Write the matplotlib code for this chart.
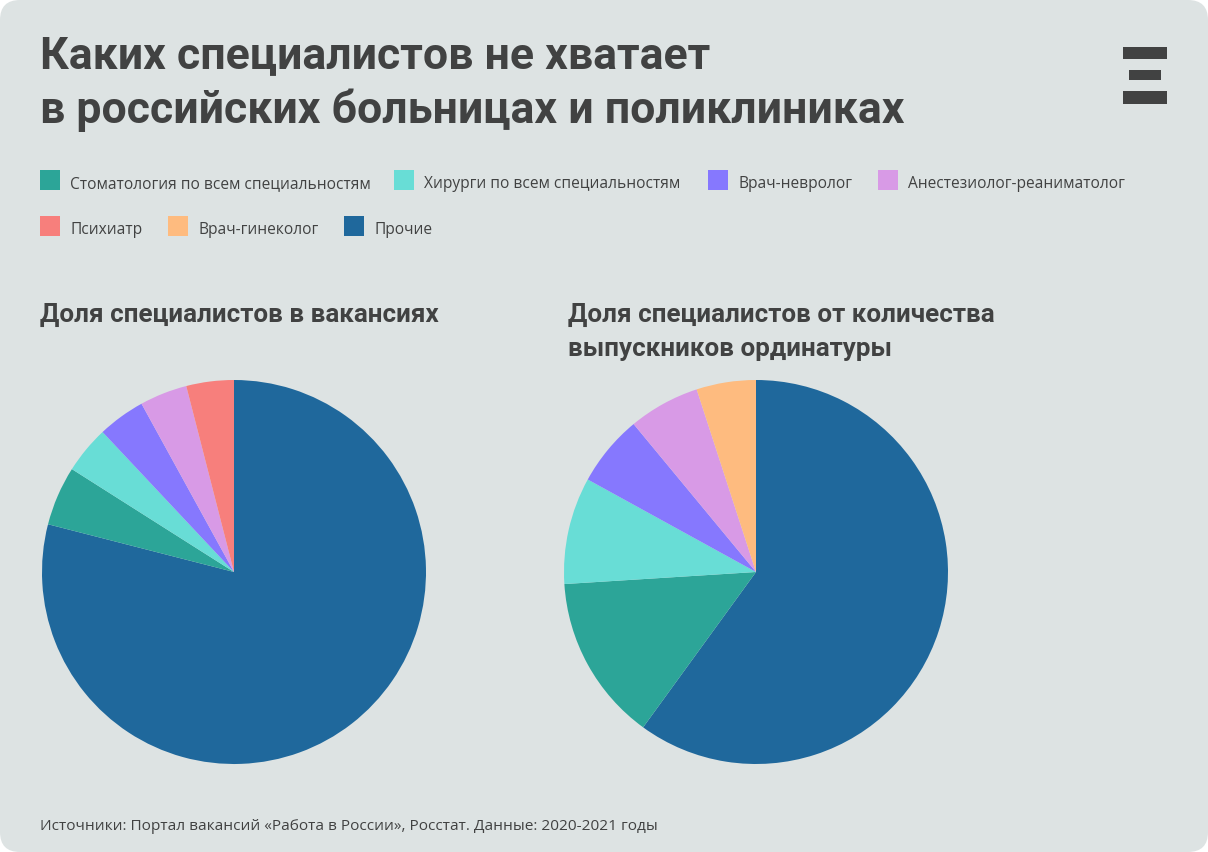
import matplotlib
matplotlib.use('Agg')
import matplotlib.pyplot as plt
from matplotlib.patches import FancyBboxPatch, Rectangle

# Data
categories = ['Стоматология по всем специальностям', 'Хирурги по всем специальностям',
              'Врач-невролог', 'Анестезиолог-реаниматолог', 'Психиатр', 'Врач-гинеколог', 'Прочие']
colors = ['#2ca598', '#68ddd6', '#8678fe', '#d89ae6', '#f77f7c', '#febb7f', '#1f689c']
# clockwise from 12 o'clock, "Прочие" first
vacancies = [79, 5, 4, 4, 4, 4, 0]
vacancies_cats = [6, 0, 1, 2, 3, 4, 5]
graduates = [60, 14, 9, 6, 6, 0, 5]
graduates_cats = [6, 0, 1, 2, 3, 4, 5]

W, H = 1208, 852
BG = '#dde3e3'
DARK = '#414242'
FONT = 'Open Sans'
HEAD_FONT = 'Roboto'

fig = plt.figure(figsize=(W / 100, H / 100), dpi=100, facecolor='white')
bg = fig.add_axes([0, 0, 1, 1])
bg.set_xlim(0, W)
bg.set_ylim(H, 0)
bg.axis('off')
bg.add_patch(FancyBboxPatch((20, 20), W - 40, H - 40, boxstyle='round,pad=20,rounding_size=20',
                            fc=BG, ec='none'))

bg.text(40, 56, 'Каких специалистов не хватает', fontsize=32.1, fontweight='bold',
        family=HEAD_FONT, color=DARK, va='center')
bg.text(40, 110, 'в российских больницах и поликлиниках', fontsize=32.1, fontweight='bold',
        family=HEAD_FONT, color=DARK, va='center')

# logo
for x, y, w, h in [(1123, 47, 44, 12), (1129, 70, 32, 10), (1123, 91, 44, 13)]:
    bg.add_patch(Rectangle((x, y), w, h, fc=DARK, ec='none'))

# legend, placed by hand like the original
legend_pos = [(40, 170), (394, 170), (708, 170), (878, 170), (40, 216), (168, 216), (344, 216)]
for (x, y), name, col in zip(legend_pos, categories, colors):
    bg.add_patch(Rectangle((x, y), 20, 20, fc=col, ec='none'))
    bg.text(x + 30, y + 14, name, fontsize=11.2, family=FONT, color=DARK, va='center')

bg.text(40, 315, 'Доля специалистов в вакансиях', fontsize=18.7, fontweight='bold',
        family=HEAD_FONT, color=DARK, va='center')
bg.text(568, 315, 'Доля специалистов от количества', fontsize=18.7, fontweight='bold',
        family=HEAD_FONT, color=DARK, va='center')
bg.text(568, 349, 'выпускников ординатуры', fontsize=18.7, fontweight='bold',
        family=HEAD_FONT, color=DARK, va='center')
bg.text(40, 826, 'Источники: Портал вакансий «Работа в России», Росстат. Данные: 2020-2021 годы',
        fontsize=11.1, family=FONT, color=DARK, va='center')


def draw_pie(cx, cy, r, values, cats):
    ax = fig.add_axes([(cx - r) / W, 1 - (cy + r) / H, 2 * r / W, 2 * r / H])
    ax.pie(values, colors=[colors[i] for i in cats], startangle=90, counterclock=False,
           radius=1, wedgeprops={'linewidth': 0})
    ax.set_xlim(-1, 1)
    ax.set_ylim(-1, 1)
    ax.patch.set_alpha(0)


draw_pie(234, 572, 192, vacancies, vacancies_cats)
draw_pie(756, 572, 192, graduates, graduates_cats)

fig.savefig('out.png', dpi=100, facecolor='white')
